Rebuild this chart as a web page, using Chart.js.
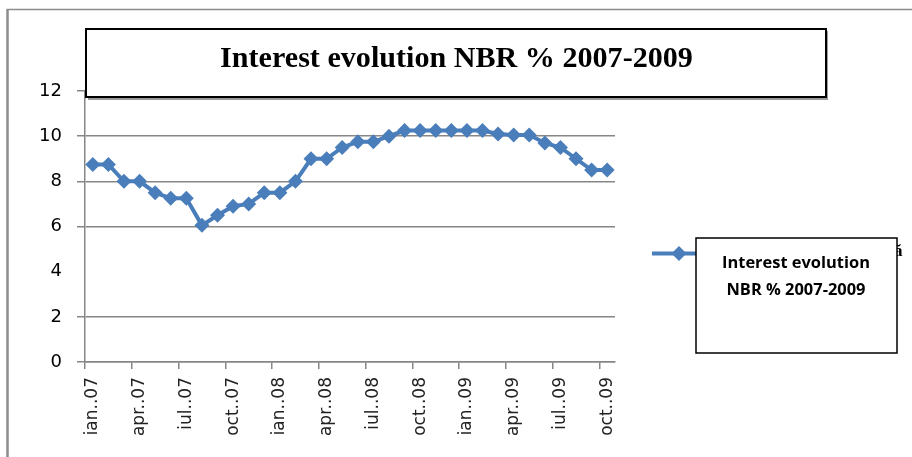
<!DOCTYPE html>
<html>
<head>
<meta charset="utf-8">
<script src="https://cdn.jsdelivr.net/npm/chart.js@4/dist/chart.umd.min.js"></script>
<style>
html,body{margin:0;padding:0;background:#fff;}
#wrap{position:relative;width:912px;height:457px;}
</style>
</head>
<body>
<div id="wrap"><canvas id="c" width="912" height="457"></canvas></div>
<script>
const months = ['ian..07','feb..07','mar..07','apr..07','mai..07','iun..07','iul..07','aug..07','sep..07','oct..07','noi..07','dec..07',
                'ian..08','feb..08','mar..08','apr..08','mai..08','iun..08','iul..08','aug..08','sep..08','oct..08','noi..08','dec..08',
                'ian..09','feb..09','mar..09','apr..09','mai..09','iun..09','iul..09','aug..09','sep..09','oct..09'];
const interest = [8.75, 8.75, 8.0, 8.0, 7.5, 7.25, 7.25, 6.05, 6.5, 6.9, 7.0, 7.5,
                  7.5, 8.0, 9.0, 9.0, 9.5, 9.75, 9.75, 10.0, 10.25, 10.25, 10.25, 10.25,
                  10.25, 10.25, 10.1, 10.05, 10.05, 9.7, 9.5, 9.0, 8.5, 8.5];
const yTicks = [0, 2, 4, 6, 8, 10, 12];
const titleText = 'Interest evolution NBR % 2007-2009';
const legendLines = ['Interest evolution', 'NBR % 2007-2009'];

const BLUE = '#4A7EBB';
const GRID = '#868686';

function fitFont(ctx, text, weight, family, targetW) {
  ctx.font = weight + ' 100px ' + family;
  const w = ctx.measureText(text).width;
  return 100 * targetW / w;
}

const decor = {
  id: 'decor',
  afterDraw(chart) {
    const ctx = chart.ctx;
    ctx.save();
    // outer frame (top and left)
    ctx.strokeStyle = '#8c8c8c';
    ctx.lineWidth = 1.5;
    ctx.beginPath(); ctx.moveTo(7, 9.5); ctx.lineTo(912, 9.5); ctx.stroke();
    ctx.lineWidth = 2.5;
    ctx.beginPath(); ctx.moveTo(7.5, 9); ctx.lineTo(7.5, 457); ctx.stroke();

    // title box
    ctx.fillStyle = '#9a9a9a';
    ctx.fillRect(88, 31, 740, 69);
    ctx.fillStyle = '#fff';
    ctx.fillRect(86, 29, 740, 68);
    ctx.strokeStyle = '#000';
    ctx.lineWidth = 2;
    ctx.strokeRect(86, 29, 740, 68);
    const ts = fitFont(ctx, titleText, 'bold', '"Liberation Serif"', 473);
    ctx.font = 'bold ' + ts + 'px "Liberation Serif"';
    ctx.fillStyle = '#000';
    ctx.textAlign = 'center';
    ctx.textBaseline = 'middle';
    ctx.fillText(titleText, 456.5, 59);

    // legend sample
    const ly = 253.5;
    ctx.font = 'bold 17px "Liberation Serif"';
    ctx.textAlign = 'left';
    ctx.fillText('ă', 894, 252);
    ctx.strokeStyle = BLUE;
    ctx.lineWidth = 4;
    ctx.beginPath(); ctx.moveTo(652, ly); ctx.lineTo(700, ly); ctx.stroke();
    ctx.fillStyle = BLUE;
    ctx.beginPath();
    ctx.moveTo(679, ly - 7.5); ctx.lineTo(686.5, ly); ctx.lineTo(679, ly + 7.5); ctx.lineTo(671.5, ly);
    ctx.closePath(); ctx.fill();

    // legend box
    ctx.fillStyle = '#fff';
    ctx.fillRect(696, 238, 201, 115);
    ctx.strokeStyle = '#000';
    ctx.lineWidth = 1.5;
    ctx.strokeRect(696, 238, 201, 115);
    const ls = fitFont(ctx, legendLines[0], 'bold', '"Open Sans"', 148);
    ctx.font = 'bold ' + ls + 'px "Open Sans"';
    ctx.fillStyle = '#000';
    ctx.textAlign = 'center';
    ctx.textBaseline = 'middle';
    ctx.fillText(legendLines[0], 796, 263);
    ctx.fillText(legendLines[1], 796, 290);
    ctx.restore();
  }
};

new Chart(document.getElementById('c'), {
  type: 'line',
  data: {
    labels: months,
    datasets: [{
      label: legendLines.join(' '),
      data: interest,
      borderColor: BLUE,
      backgroundColor: BLUE,
      borderWidth: 4,
      pointStyle: 'rectRot',
      pointRadius: 7.5,
      pointBorderWidth: 0,
      pointBackgroundColor: BLUE,
      tension: 0,
      fill: false
    }]
  },
  options: {
    responsive: false,
    animation: false,
    devicePixelRatio: 1,
    layout: { padding: { left: 0, right: 297, top: 91, bottom: 0 } },
    plugins: { legend: { display: false }, title: { display: false }, tooltip: { enabled: false } },
    scales: {
      x: {
        type: 'category',
        offset: true,
        afterFit(s) { s.height = 95; },
        grid: {
          offset: true,
          drawOnChartArea: false,
          drawTicks: true,
          tickLength: 7,
          color: (c) => (c.index !== undefined && c.index % 3 === 0) ? GRID : 'rgba(0,0,0,0)',
          lineWidth: 1.5
        },
        border: { display: true, color: GRID, width: 1.5 },
        ticks: {
          autoSkip: false,
          minRotation: 90,
          maxRotation: 90,
          padding: 8,
          color: '#222',
          font: { family: '"DejaVu Sans"', size: 17 },
          callback: function(v, i) { return i % 3 === 0 ? months[i] : ''; }
        }
      },
      y: {
        min: 0,
        max: 12,
        afterFit(s) { s.width = 85; },
        afterBuildTicks(s) { s.ticks = yTicks.map(v => ({ value: v })); },
        grid: {
          color: (c) => (c.tick && c.tick.value === 4) ? 'rgba(0,0,0,0)' : GRID,
          lineWidth: 1.5,
          tickLength: 8,
          drawTicks: true
        },
        border: { display: true, color: GRID, width: 1.5 },
        ticks: {
          padding: 15,
          color: '#000',
          font: { family: '"DejaVu Sans"', size: 18 }
        }
      }
    }
  },
  plugins: [decor]
});
</script>
</body>
</html>
